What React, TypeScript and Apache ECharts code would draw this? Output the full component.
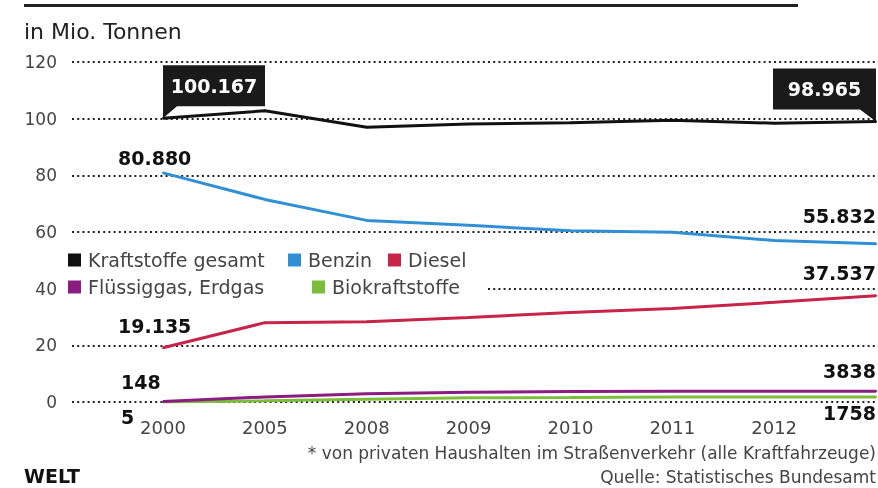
import React, { useEffect, useRef } from "react";
import * as echarts from "echarts";

const years = ["2000", "2005", "2008", "2009", "2010", "2011", "2012", "2013"];
const seriesNames = ["Kraftstoffe gesamt", "Benzin", "Diesel", "Flüssiggas, Erdgas", "Biokraftstoffe"];
const gesamt = [100.167, 102.8, 97.0, 98.1, 98.6, 99.4, 98.4, 98.965];
const benzin = [80.88, 71.5, 64.1, 62.4, 60.4, 59.9, 57.0, 55.832];
const diesel = [19.135, 28.0, 28.3, 29.8, 31.6, 33.0, 35.2, 37.537];
const fluessiggas = [0.148, 1.8, 2.9, 3.4, 3.7, 3.8, 3.8, 3.838];
const bio = [0.005, 0.4, 1.0, 1.5, 1.6, 1.8, 1.8, 1.758];
const colors = ["#111111", "#3190d4", "#c62449", "#8b1c80", "#7cbd3c"];

const REG = "'DejaVu Sans', 'Noto Sans', sans-serif";
const BOLD = "'DejaVu Sans', 'Noto Sans', sans-serif";

const fmtMio = (v: number) => v.toFixed(3);
const fmtKt = (v: number) => String(Math.round(v * 1000));

function mkData(vals: number[], fmt: (v: number) => string, firstPos: number[], lastPos: number[]) {
  return vals.map((v, i) => {
    if (i === 0)
      return { value: v, label: { show: true, formatter: fmt(v), position: firstPos, align: "left", verticalAlign: "middle" } };
    if (i === vals.length - 1)
      return { value: v, label: { show: true, formatter: fmt(v), position: lastPos, align: "right", verticalAlign: "middle" } };
    return v;
  });
}

export default function App() {
  const ref = useRef<HTMLDivElement>(null);
  useEffect(() => {
    if (!ref.current) return;
    const chart = echarts.init(ref.current, null, { renderer: "svg" });
    const labelBase = { show: false, fontFamily: BOLD, fontSize: 19, fontWeight: "bold", color: "#111" };
    const lineSeries = (idx: number, data: any[], extra: any = {}) => ({
      name: seriesNames[idx],
      type: "line",
      xAxisIndex: 1,
      yAxisIndex: 1,
      data,
      symbol: "circle",
      symbolSize: 2,
      showSymbol: true,
      showAllSymbol: true,
      itemStyle: { color: colors[idx] },
      lineStyle: { color: colors[idx], width: 3 },
      label: labelBase,
      z: 10 - idx,
      ...extra,
    });
    const legendCommon = {
      icon: "rect",
      itemWidth: 13,
      itemHeight: 13,
      padding: 0,
      selectedMode: false,
      textStyle: { fontFamily: REG, fontSize: 19, color: "#444", lineHeight: 20, padding: [0, 0, 0, 2] },
    };
    chart.setOption({
      animation: false,
      color: colors,
      title: {
        text: "in Mio. Tonnen",
        left: 24,
        top: 20,
        padding: 0,
        textStyle: { fontFamily: REG, fontSize: 22, fontWeight: "normal", color: "#222" },
      },
      legend: [
        { ...legendCommon, data: [seriesNames[0]], left: 68, top: 250 },
        { ...legendCommon, data: [seriesNames[1]], left: 288, top: 250 },
        { ...legendCommon, data: [seriesNames[2]], left: 388, top: 250 },
        { ...legendCommon, data: [seriesNames[3]], left: 68, top: 277 },
        { ...legendCommon, data: [seriesNames[4]], left: 312, top: 277 },
      ],
      grid: [
        { left: 72, right: 0, top: 62, bottom: 86 },
        { left: 163, right: 2, top: 62, bottom: 86 },
      ],
      xAxis: [
        { type: "value", gridIndex: 0, show: false, min: 0, max: 1 },
        {
          type: "category",
          gridIndex: 1,
          data: years,
          boundaryGap: false,
          axisLine: { show: false },
          axisTick: { show: false },
          axisLabel: {
            interval: (i: number) => i < years.length - 1,
            color: "#444",
            fontFamily: REG,
            fontSize: 18,
            margin: 16,
          },
        },
      ],
      yAxis: [
        {
          type: "value",
          gridIndex: 0,
          min: 0,
          max: 120,
          interval: 20,
          axisLine: { show: false },
          axisTick: { show: false },
          axisLabel: { color: "#444", fontFamily: REG, fontSize: 17, margin: 15 },
          splitLine: { lineStyle: { color: "#222", width: 2, type: [2, 3.2] } },
        },
        { type: "value", gridIndex: 1, min: 0, max: 120, interval: 20, show: false, splitLine: { show: false } },
      ],
      series: [
        lineSeries(0, gesamt, {
          markPoint: {
            silent: true,
            label: {
              show: true,
              color: "#fff",
              fontFamily: BOLD,
              fontSize: 19,
              fontWeight: "bold",
              offset: [0, -6],
              formatter: (p: any) => fmtMio(p.value),
            },
            itemStyle: { color: "#1a1a1a" },
            data: [
              {
                coord: [years[0], gesamt[0]],
                value: gesamt[0],
                symbol: "path://M0,0H102V41H14L0,53Z",
                symbolSize: [102, 53],
                symbolOffset: [51, -26.5],
              },
              {
                coord: [years[years.length - 1], gesamt[gesamt.length - 1]],
                value: gesamt[gesamt.length - 1],
                symbol: "path://M0,0H103V53L87,41H0Z",
                symbolSize: [103, 53],
                symbolOffset: [-51.5, -26.5],
              },
            ],
          },
        }),
        lineSeries(1, mkData(benzin, fmtMio, [-44, -14], [1, -27])),
        lineSeries(2, mkData(diesel, fmtMio, [-44, -21], [1, -22])),
        lineSeries(3, mkData(fluessiggas, fmtKt, [-41, -19], [1, -19])),
        lineSeries(4, mkData(bio, fmtKt, [-41, 16], [1, 17])),
      ],
      graphic: [
        { type: "rect", shape: { x: 24, y: 4, width: 774, height: 3 }, style: { fill: "#222" }, z: 5 },
        { type: "rect", shape: { x: 66, y: 277, width: 420, height: 20 }, style: { fill: "#fff" }, z: 3 },
        {
          type: "text",
          x: 876,
          y: 453,
          z: 5,
          style: {
            text: "* von privaten Haushalten im Straßenverkehr (alle Kraftfahrzeuge)",
            align: "right",
            verticalAlign: "middle",
            fontFamily: REG,
            fontSize: 17,
            fill: "#444",
          },
        },
        {
          type: "text",
          x: 876,
          y: 477,
          z: 5,
          style: {
            text: "Quelle: Statistisches Bundesamt",
            align: "right",
            verticalAlign: "middle",
            fontFamily: REG,
            fontSize: 17,
            fill: "#444",
          },
        },
        {
          type: "text",
          x: 24,
          y: 476,
          z: 5,
          style: {
            text: "WELT",
            align: "left",
            verticalAlign: "middle",
            fontFamily: BOLD,
            fontWeight: "bold",
            fontSize: 19,
            fill: "#111",
          },
        },
      ],
    });
    return () => chart.dispose();
  }, []);
  return <div ref={ref} style={{ position: "fixed", left: 0, top: 0, width: 878, height: 488 }} />;
}
